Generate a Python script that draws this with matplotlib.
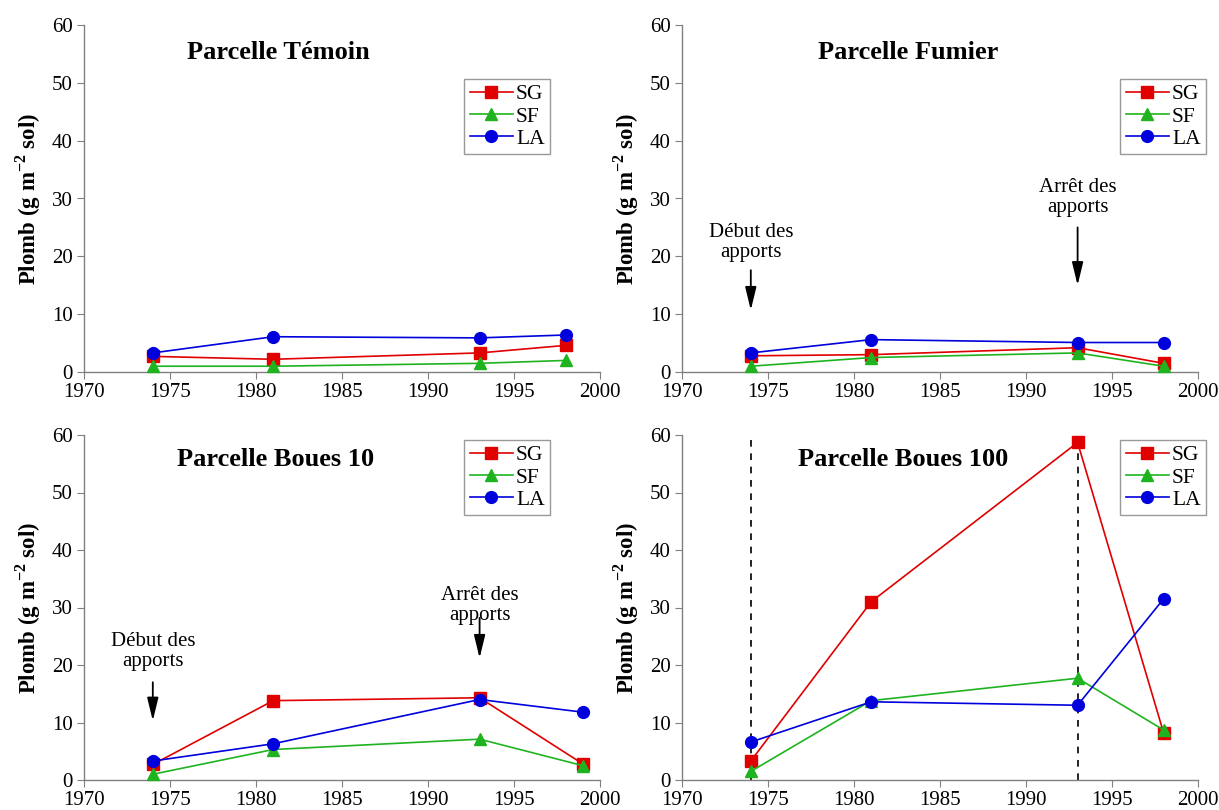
import numpy as np
import matplotlib
matplotlib.use('Agg')
import matplotlib.pyplot as plt

plt.rcParams['font.family'] = ['Liberation Serif', 'DejaVu Serif']
plt.rcParams['mathtext.fontset'] = 'custom'
plt.rcParams['mathtext.rm'] = 'Liberation Serif'
plt.rcParams['mathtext.bf'] = 'Liberation Serif:bold'

series_names = ['SG', 'SF', 'LA']

temoin_years = [1974, 1981, 1993, 1998]
temoin_sg = [2.7, 2.2, 3.3, 4.6]
temoin_sf = [1.0, 1.0, 1.5, 2.0]
temoin_la = [3.3, 6.1, 5.9, 6.4]

fumier_years = [1974, 1981, 1993, 1998]
fumier_sg = [2.8, 3.0, 4.2, 1.5]
fumier_sf = [1.0, 2.5, 3.3, 1.0]
fumier_la = [3.3, 5.6, 5.1, 5.1]

boues10_years = [1974, 1981, 1993, 1999]
boues10_sg = [2.7, 13.8, 14.3, 2.8]
boues10_sf = [1.0, 5.3, 7.1, 2.5]
boues10_la = [3.3, 6.3, 14.0, 11.8]

boues100_years = [1974, 1981, 1993, 1998]
boues100_sg = [3.3, 31.0, 58.7, 8.2]
boues100_sf = [1.5, 13.8, 17.7, 8.7]
boues100_la = [6.6, 13.6, 13.0, 31.5]

debut_year = 1974
arret_year = 1993

colors = ['#e00000', '#1fb41f', '#0000dd']
markers = ['s', '^', 'o']

fig = plt.figure(figsize=(12.19, 8.10), dpi=100)
W, H = 1219, 810

def make_axes(x0, x1, ytop, ybot):
    return fig.add_axes([x0 / W, 1 - ybot / H, (x1 - x0) / W, (ybot - ytop) / H])

ax_tl = make_axes(84, 600, 25, 372)
ax_tr = make_axes(682, 1198, 25, 372)
ax_bl = make_axes(84, 600, 435, 780)
ax_br = make_axes(682, 1198, 435, 780)

panels = [
    (ax_tl, 'Parcelle Témoin', temoin_years, [temoin_sg, temoin_sf, temoin_la], (0.376, 0.922), (1.0 - 50 / 516, 1.0 - 54 / 347)),
    (ax_tr, 'Parcelle Fumier', fumier_years, [fumier_sg, fumier_sf, fumier_la], (0.438, 0.922), (1.0 + 8 / 516, 1.0 - 54 / 347)),
    (ax_bl, 'Parcelle Boues 10', boues10_years, [boues10_sg, boues10_sf, boues10_la], (0.372, 0.928), (1.0 - 50 / 516, 1.0 - 5 / 345)),
    (ax_br, 'Parcelle Boues 100', boues100_years, [boues100_sg, boues100_sf, boues100_la], (0.428, 0.928), (1.0 + 8 / 516, 1.0 - 5 / 345)),
]

for ax, title, years, vals, tpos, lpos in panels:
    for v, name, c, m in zip(vals, series_names, colors, markers):
        ax.plot(years, v, color=c, marker=m, markersize=8.5, lw=1.2, label=name, clip_on=False, zorder=3)
    ax.set_xlim(1970, 2000)
    ax.set_ylim(0, 60)
    ax.set_xticks(np.arange(1970, 2001, 5))
    ax.set_yticks(np.arange(0, 61, 10))
    for s in ['top', 'right']:
        ax.spines[s].set_visible(False)
    for s in ['left', 'bottom']:
        ax.spines[s].set_color('#808080')
        ax.spines[s].set_linewidth(1.0)
    ax.tick_params(axis='both', direction='out', length=5, color='#808080', labelsize=15, pad=3)
    ax.set_ylabel(r'Plomb (g m$^{\mathbf{-2}}$ sol)', fontsize=16.5, fontweight='bold')
    ax.yaxis.set_label_coords(-0.079, 0.5)
    ax.text(tpos[0], tpos[1], title, transform=ax.transAxes, ha='center', va='center',
            fontsize=19, fontweight='bold')
    leg = ax.legend(loc='upper right', bbox_to_anchor=lpos, fontsize=15.5, frameon=True,
                    fancybox=False, handlelength=2.0, handletextpad=0.15, borderpad=0.25,
                    labelspacing=0.1, borderaxespad=0)
    leg.get_frame().set_edgecolor('#808080')
    leg.get_frame().set_linewidth(1.0)

def arrow_note(ax, x, text_y, y_start, y_end, label):
    ax.text(x, text_y, label, ha='center', va='bottom', fontsize=15, linespacing=1.05)
    ax.annotate('', xy=(x, y_end), xytext=(x, y_start),
                arrowprops=dict(arrowstyle='-|>,head_width=0.17,head_length=0.7',
                                color='black', lw=1.3, mutation_scale=20,
                                shrinkA=0, shrinkB=0))

arrow_note(ax_tr, debut_year, 19.0, 17.6, 10.7, 'Début des\napports')
arrow_note(ax_tr, arret_year, 26.8, 25.0, 15.0, 'Arrêt des\napports')
arrow_note(ax_bl, debut_year, 19.0, 17.0, 10.3, 'Début des\napports')
arrow_note(ax_bl, arret_year, 27.0, 28.2, 21.2, 'Arrêt des\napports')

for yr in [debut_year, arret_year]:
    ax_br.axvline(yr, ymin=0, ymax=1, color='black', lw=1.2, ls=(0, (4, 4)), zorder=1)

fig.savefig('out.png', dpi=100)
